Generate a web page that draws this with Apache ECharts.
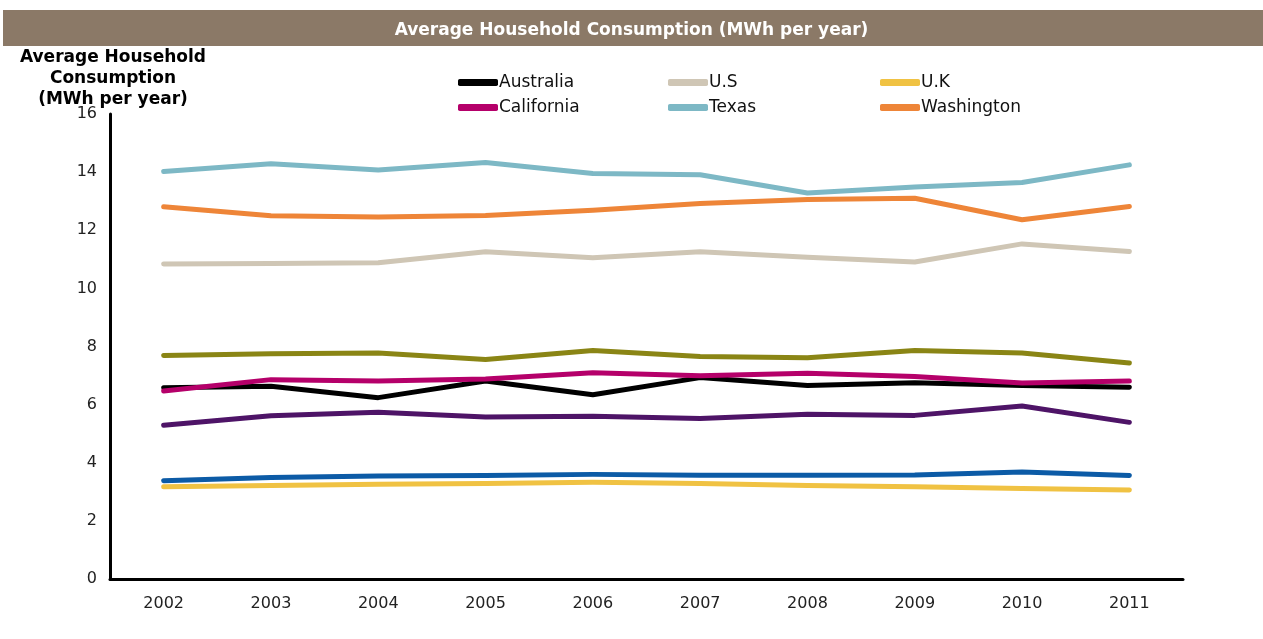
<!DOCTYPE html>
<html>
<head>
<meta charset="utf-8">
<script src="https://cdn.jsdelivr.net/npm/echarts@6/dist/echarts.min.js"></script>
<style>html,body{margin:0;padding:0;background:#fff}#c{width:1263px;height:639px}</style>
</head>
<body>
<div id="c"></div>
<script>
const years = ['2002','2003','2004','2005','2006','2007','2008','2009','2010','2011'];
const yTicks = [0, 2, 4, 6, 8, 10, 12, 14, 16];
const yAxisTitle = 'Average Household\nConsumption\n(MWh per year)';

const australia  = [6.58, 6.63, 6.24, 6.81, 6.34, 6.93, 6.66, 6.75, 6.66, 6.60];
const us         = [10.84, 10.86, 10.88, 11.26, 11.05, 11.26, 11.07, 10.91, 11.53, 11.27];
const uk         = [3.17, 3.22, 3.26, 3.29, 3.33, 3.29, 3.22, 3.17, 3.11, 3.06];
const california = [6.47, 6.86, 6.81, 6.88, 7.10, 6.99, 7.08, 6.97, 6.74, 6.81];
const texas      = [14.02, 14.29, 14.07, 14.33, 13.95, 13.91, 13.28, 13.49, 13.64, 14.25];
const washington = [12.81, 12.50, 12.46, 12.51, 12.69, 12.92, 13.06, 13.10, 12.36, 12.82];
const olive      = [7.69, 7.75, 7.78, 7.55, 7.86, 7.66, 7.61, 7.86, 7.78, 7.43];
const purple     = [5.29, 5.62, 5.74, 5.57, 5.60, 5.52, 5.67, 5.63, 5.95, 5.39];
const blue       = [3.38, 3.49, 3.54, 3.56, 3.60, 3.57, 3.57, 3.58, 3.68, 3.56];

const FONT = '"DejaVu Sans", Verdana, sans-serif';

function line(name, data, color) {
  return {
    name: name, type: 'line', data: data, symbol: 'none', showSymbol: false,
    lineStyle: { color: color, width: 5, cap: 'round', join: 'round' },
    itemStyle: { color: color },
    emphasis: { disabled: true }, animation: false
  };
}

const legendBase = {
  orient: 'vertical', top: 68, itemWidth: 40, itemHeight: 7, itemGap: 6,
  icon: 'roundRect',
  textStyle: { fontFamily: FONT, fontSize: 17, color: '#111', lineHeight: 19, padding: [0,0,0,-4] },
  selectedMode: false
};

const chart = echarts.init(document.getElementById('c'));
chart.setOption({
  animation: false,
  backgroundColor: '#ffffff',
  graphic: [
    { type: 'rect', left: 3, top: 10, shape: { width: 1260, height: 36 }, style: { fill: '#8B7967' }, z: 0 },
    { type: 'text', z: 10, style: { text: yAxisTitle, x: 113, y: 47, align: 'center', verticalAlign: 'top',
        fontFamily: FONT, fontWeight: 'bold', fontSize: 17, lineHeight: 21, fill: '#000' } }
  ],
  title: {
    text: 'Average Household Consumption (MWh per year)',
    left: 'center', top: 17,
    textStyle: { fontFamily: FONT, fontWeight: 'bold', fontSize: 17, color: '#ffffff' }
  },
  legend: [
    Object.assign({}, legendBase, { left: 453, data: ['Australia', 'California'] }),
    Object.assign({}, legendBase, { left: 663, data: ['U.S', 'Texas'] }),
    Object.assign({}, legendBase, { left: 875, data: ['U.K', 'Washington'] })
  ],
  grid: { left: 110, right: 80, top: 114, bottom: 60, containLabel: false },
  xAxis: {
    type: 'category', data: years, boundaryGap: true,
    axisLine: { show: true, lineStyle: { color: '#000', width: 3 } },
    axisTick: { show: false },
    axisLabel: { fontFamily: FONT, fontSize: 16, color: '#222', margin: 17 },
    splitLine: { show: false }
  },
  yAxis: {
    type: 'value', min: yTicks[0], max: yTicks[yTicks.length - 1], interval: 2,
    axisLine: { show: true, lineStyle: { color: '#000', width: 3 } },
    axisTick: { show: false },
    axisLabel: { fontFamily: FONT, fontSize: 16, color: '#222', margin: 13 },
    splitLine: { show: false }
  },
  series: [
    line('Australia', australia, '#000000'),
    line('U.S', us, '#CFC6B5'),
    line('U.K', uk, '#F0C243'),
    line('California', california, '#B5006A'),
    line('Texas', texas, '#7DB8C5'),
    line('Washington', washington, '#EE8538'),
    line('Series 7', olive, '#8A8515'),
    line('Series 8', purple, '#4E1467'),
    line('Series 9', blue, '#0C5BA6')
  ]
});
</script>
</body>
</html>
